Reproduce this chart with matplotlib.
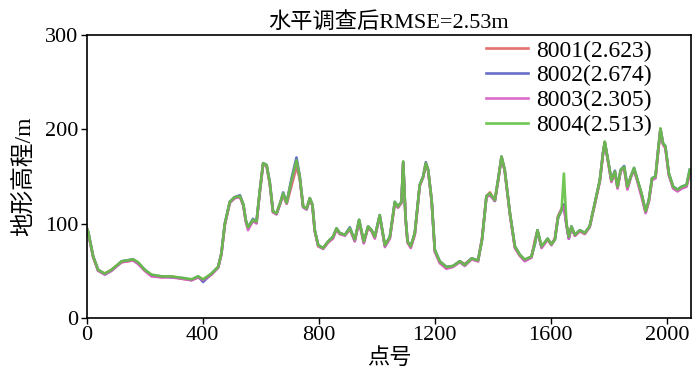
import matplotlib
matplotlib.use('Agg')
import matplotlib.pyplot as plt

plt.rcParams['font.family'] = ['Liberation Serif', 'Noto Sans CJK SC', 'DejaVu Sans']
plt.rcParams['axes.unicode_minus'] = False

# point numbers (x)
x = [0, 5, 22, 39, 62, 85, 120, 160, 177, 200,
     223, 258, 292, 338, 361, 384, 401, 430, 453, 464,
     476, 493, 510, 528, 540, 548, 556, 573, 585, 597,
     608, 620, 631, 642, 654, 668, 677, 689, 706, 723,
     734, 746, 758, 769, 778, 786, 798, 815, 832, 849,
     861, 872, 890, 907, 924, 939, 955, 970, 982, 993,
     1010, 1028, 1045, 1062, 1073, 1085, 1091, 1099, 1106, 1117,
     1131, 1148, 1160, 1169, 1177, 1189, 1200, 1217, 1240, 1263,
     1286, 1303, 1327, 1349, 1363, 1378, 1390, 1407, 1418, 1430,
     1441, 1459, 1476, 1493, 1510, 1533, 1545, 1554, 1568, 1589,
     1602, 1614, 1625, 1637, 1645, 1654, 1662, 1671, 1683, 1700,
     1717, 1734, 1752, 1769, 1780, 1786, 1795, 1809, 1821, 1830,
     1841, 1853, 1864, 1876, 1887, 1899, 1913, 1927, 1938, 1949,
     1961, 1970, 1978, 1987, 1995, 2007, 2022, 2037, 2051, 2068,
     2079]

# elevation of each station (m)
h8001 = [95, 90, 65, 50, 47, 51, 59, 61, 58, 50,
         45, 43, 44, 41, 40, 43, 40, 46, 54, 68,
         99, 122, 127, 129, 119, 103, 95, 103, 101, 135,
         163, 161, 142, 112, 110, 122, 130, 121, 140, 160,
         148, 118, 116, 126, 119, 92, 76, 74, 80, 85,
         94, 89, 88, 94, 82, 103, 80, 96, 92, 85,
         108, 77, 85, 121, 117, 122, 164, 106, 80, 75,
         89, 140, 150, 163, 156, 124, 71, 59, 53, 55,
         60, 57, 63, 60, 85, 129, 133, 124, 145, 170,
         156, 110, 75, 66, 61, 64, 82, 92, 75, 83,
         78, 84, 108, 115, 120, 99, 85, 96, 87, 92,
         89, 97, 121, 145, 174, 186, 170, 145, 154, 138,
         156, 158, 137, 150, 157, 145, 130, 112, 124, 147,
         149, 176, 199, 184, 180, 152, 138, 135, 138, 140,
         152]
h8002 = [95, 91, 65, 51, 46, 50, 60, 62, 58, 51,
         45, 44, 43, 42, 40, 44, 38, 47, 54, 68,
         100, 123, 128, 130, 120, 104, 96, 105, 101, 136,
         164, 162, 144, 113, 110, 123, 133, 122, 148, 170,
         151, 118, 115, 127, 120, 93, 77, 74, 81, 86,
         95, 90, 88, 96, 82, 104, 80, 97, 93, 86,
         109, 76, 86, 123, 118, 123, 165, 107, 81, 76,
         90, 141, 150, 165, 157, 125, 72, 60, 54, 55,
         60, 56, 63, 61, 83, 129, 131, 124, 146, 171,
         157, 111, 76, 67, 61, 65, 78, 93, 75, 84,
         78, 83, 106, 114, 120, 99, 84, 97, 88, 93,
         90, 97, 122, 146, 175, 186, 171, 146, 156, 139,
         157, 161, 139, 150, 159, 146, 131, 113, 125, 148,
         150, 178, 200, 185, 182, 153, 139, 136, 139, 141,
         157]
h8003 = [94, 90, 64, 50, 46, 50, 59, 61, 57, 50,
         44, 43, 43, 41, 40, 43, 40, 46, 53, 67,
         99, 122, 127, 128, 119, 102, 93, 103, 100, 134,
         163, 161, 142, 112, 110, 122, 131, 121, 144, 165,
         149, 117, 115, 126, 119, 92, 76, 73, 80, 84,
         94, 89, 87, 94, 81, 102, 79, 96, 92, 84,
         108, 75, 84, 122, 117, 122, 165, 105, 80, 74,
         88, 140, 149, 163, 156, 124, 70, 58, 52, 54,
         59, 55, 62, 60, 84, 128, 130, 124, 145, 170,
         156, 110, 74, 66, 60, 64, 81, 92, 74, 83,
         77, 84, 107, 116, 118, 98, 84, 96, 87, 92,
         89, 96, 121, 145, 174, 186, 170, 144, 154, 137,
         156, 158, 136, 149, 157, 144, 128, 111, 123, 146,
         148, 177, 200, 184, 180, 151, 137, 134, 137, 139,
         154]
h8004 = [95, 91, 65, 51, 47, 51, 60, 62, 59, 51,
         46, 44, 44, 42, 41, 44, 41, 47, 54, 68,
         100, 123, 128, 129, 120, 104, 96, 104, 102, 136,
         164, 162, 143, 113, 111, 123, 132, 122, 146, 167,
         150, 118, 116, 127, 120, 93, 77, 74, 81, 86,
         95, 90, 88, 95, 83, 104, 81, 97, 93, 86,
         109, 77, 86, 123, 118, 123, 166, 107, 81, 76,
         90, 141, 150, 164, 157, 125, 72, 60, 54, 55,
         60, 56, 63, 61, 83, 129, 132, 125, 146, 171,
         157, 111, 76, 67, 62, 65, 79, 93, 76, 84,
         78, 83, 107, 114, 153, 100, 86, 97, 88, 93,
         90, 97, 122, 146, 175, 187, 171, 146, 155, 139,
         157, 160, 139, 150, 159, 146, 132, 113, 125, 148,
         150, 178, 201, 185, 182, 153, 139, 136, 139, 141,
         157]

labels = ['8001(2.623)', '8002(2.674)', '8003(2.305)', '8004(2.513)']
colors = ['#e0625e', '#5660c2', '#d65cc4', '#62c044']

fig = plt.figure(figsize=(7, 3.83), dpi=100)
ax = fig.add_axes([0.124, 0.170, 0.863, 0.739])

for h, lab, c in zip([h8001, h8002, h8003, h8004], labels, colors):
    ax.plot(x, h, color=c, lw=1.9, alpha=0.9, label=lab)

ax.set_xlim(0, 2083)
ax.set_ylim(0, 300)
ax.set_xticks([0, 400, 800, 1200, 1600, 2000])
ax.set_yticks([0, 100, 200, 300])
ax.tick_params(direction='out', length=4, width=1, labelsize=16, pad=2)
for s in ax.spines.values():
    s.set_linewidth(1.2)

ax.set_title('水平调查后RMSE=2.53m', fontsize=16, pad=5)
ax.set_xlabel('点号', fontsize=16, labelpad=2)
ax.set_ylabel('地形高程/m', fontsize=17, labelpad=7)

ax.legend(loc='upper right', bbox_to_anchor=(0.94, 0.99), frameon=False,
          fontsize=17, handlelength=1.8, labelspacing=0.14, borderpad=0.1,
          handletextpad=0.35, borderaxespad=0.0)

fig.savefig('out.png', dpi=100)
